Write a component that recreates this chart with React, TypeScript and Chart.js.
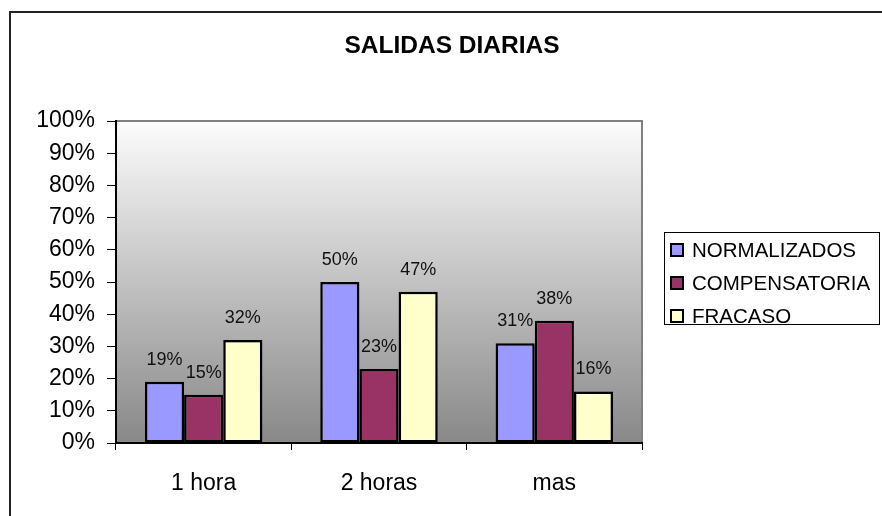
import React, { useEffect, useRef } from "react";
import { Chart, registerables } from "chart.js";

Chart.register(...registerables);

const categories = ["1 hora", "2 horas", "mas"];
const seriesNames = ["NORMALIZADOS", "COMPENSATORIA", "FRACASO"];
const normalizados = [19, 50, 31];
const compensatoria = [15, 23, 38];
const fracaso = [32, 47, 16];
const seriesColors = ["#9999FF", "#993366", "#FFFFCC"];
const titleText = "SALIDAS DIARIAS";

const FONT = "'Liberation Sans', Arial, Helvetica, sans-serif";

export default function App() {
  const ref = useRef<HTMLCanvasElement | null>(null);

  useEffect(() => {
    if (!ref.current) return;

    const bgPlugin = {
      id: "bgPlugin",
      beforeDraw(chart: any) {
        const { ctx, chartArea } = chart;
        ctx.save();
        ctx.fillStyle = "#ffffff";
        ctx.fillRect(0, 0, chart.width, chart.height);
        // outer border
        ctx.strokeStyle = "#222";
        ctx.lineWidth = 2;
        ctx.strokeRect(10, 12, chart.width + 20, chart.height + 20);
        // title
        ctx.fillStyle = "#000";
        ctx.font = `bold 24.5px ${FONT}`;
        ctx.textAlign = "center";
        ctx.textBaseline = "middle";
        ctx.fillText(titleText, 452, 46);
        // plot gradient
        const g = ctx.createLinearGradient(0, chartArea.top, 0, chartArea.bottom);
        g.addColorStop(0, "#fcfcfc");
        g.addColorStop(1, "#888888");
        ctx.fillStyle = g;
        ctx.fillRect(chartArea.left, chartArea.top, chartArea.right - chartArea.left, chartArea.bottom - chartArea.top);
        ctx.strokeStyle = "#808080";
        ctx.lineWidth = 2;
        ctx.beginPath();
        ctx.moveTo(chartArea.left, chartArea.top);
        ctx.lineTo(chartArea.right, chartArea.top);
        ctx.lineTo(chartArea.right, chartArea.bottom);
        ctx.stroke();
        ctx.restore();
      },
    };

    const labelPlugin = {
      id: "labelPlugin",
      afterDatasetsDraw(chart: any) {
        const { ctx } = chart;
        ctx.save();
        ctx.fillStyle = "#111";
        ctx.font = `18px ${FONT}`;
        ctx.textAlign = "center";
        ctx.textBaseline = "middle";
        chart.data.datasets.forEach((ds: any, i: number) => {
          const meta = chart.getDatasetMeta(i);
          meta.data.forEach((bar: any, j: number) => {
            ctx.fillText(ds.data[j] + "%", bar.x, bar.y - 22);
          });
        });
        // legend
        const lx = 664, ly = 232, lw = 215, lh = 92;
        ctx.fillStyle = "#fff";
        ctx.fillRect(lx, ly, lw, lh);
        ctx.strokeStyle = "#000";
        ctx.lineWidth = 1;
        ctx.strokeRect(lx + 0.5, ly + 0.5, lw, lh);
        ctx.font = `20.5px ${FONT}`;
        ctx.textAlign = "left";
        chart.data.datasets.forEach((ds: any, i: number) => {
          const cy = 250 + i * 33;
          ctx.fillStyle = ds.backgroundColor;
          ctx.fillRect(671, cy - 6, 12, 12);
          ctx.lineWidth = 2;
          ctx.strokeStyle = "#000";
          ctx.strokeRect(671, cy - 6, 12, 12);
          ctx.fillStyle = "#000";
          ctx.fillText(ds.label, 692, cy + 1);
        });
        ctx.restore();
      },
    };

    const values = [normalizados, compensatoria, fracaso];
    const chart = new Chart(ref.current, {
      type: "bar",
      data: {
        labels: categories,
        datasets: seriesNames.map((name, i) => ({
          label: name,
          data: values[i],
          backgroundColor: seriesColors[i],
          borderColor: "#000",
          borderWidth: 2.5,
          borderSkipped: false,
          categoryPercentage: 0.67,
          barPercentage: 1,
        })),
      },
      options: {
        animation: false,
        responsive: false,
        devicePixelRatio: 1,
        layout: { padding: { left: 0, top: 121, right: 240, bottom: 0 } },
        plugins: {
          legend: { display: false },
          title: { display: false },
          tooltip: { enabled: false },
        },
        scales: {
          x: {
            grid: {
              display: true,
              drawOnChartArea: false,
              drawTicks: true,
              tickLength: 7,
              tickColor: "#000",
              offset: true,
            },
            border: { display: true, color: "#000", width: 2 },
            ticks: {
              color: "#000",
              font: { family: FONT, size: 23 },
              padding: 20,
            },
            afterFit(scale: any) {
              scale.height = 73;
            },
          },
          y: {
            min: 0,
            max: 100,
            grid: {
              display: true,
              drawOnChartArea: false,
              drawTicks: true,
              tickLength: 9,
              tickColor: "#000",
            },
            border: { display: true, color: "#000", width: 2 },
            ticks: {
              stepSize: 10,
              color: "#000",
              font: { family: FONT, size: 23 },
              padding: 12,
              callback: (v: any) => v + "%",
            },
            afterFit(scale: any) {
              scale.width = 116;
            },
          },
        },
      },
      plugins: [bgPlugin, labelPlugin],
    });
    return () => chart.destroy();
  }, []);

  return (
    <div style={{ position: "absolute", left: 0, top: 0, width: 882, height: 516 }}>
      <canvas ref={ref} width={882} height={516} style={{ display: "block" }} />
    </div>
  );
}
